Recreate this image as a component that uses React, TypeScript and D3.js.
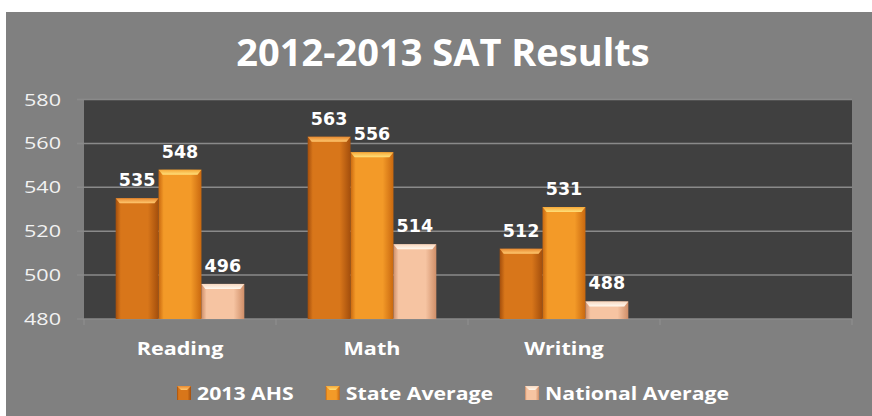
import React, { useEffect, useRef } from "react";
import * as d3 from "d3";

const categories = ["Reading", "Math", "Writing", ""];
const seriesNames = ["2013 AHS", "State Average", "National Average"];
const ahsValues = [535, 563, 512];
const stateValues = [548, 556, 531];
const nationalValues = [496, 514, 488];
const yTicks = [480, 500, 520, 540, 560, 580];
const titleText = "2012-2013 SAT Results";

const W = 872;
const H = 416;
const STRETCH = 1.27;
const LEGEND_STRETCH = 1.25;

const palettes = [
  { edge: "#a34e0c", mid: "#d8761a", top1: "#e88a30", top2: "#ffc870" },
  { edge: "#c9680f", mid: "#f39a28", top1: "#f6a838", top2: "#ffe07a" },
  { edge: "#cf8e68", mid: "#f6c4a2", top1: "#f8d8c0", top2: "#fff8ee" },
];

export default function App() {
  const ref = useRef<SVGSVGElement | null>(null);

  useEffect(() => {
    document.body.style.margin = "0";
    const svg = d3.select(ref.current);
    svg.selectAll("*").remove();

    const left = 84, right = 852, top = 99.5, bottom = 319;

    const defs = svg.append("defs");
    palettes.forEach((p, i) => {
      const g = defs.append("linearGradient").attr("id", `bar${i}`).attr("x1", "0").attr("x2", "1").attr("y1", "0").attr("y2", "0");
      g.append("stop").attr("offset", "0%").attr("stop-color", p.edge);
      g.append("stop").attr("offset", "12%").attr("stop-color", p.mid);
      g.append("stop").attr("offset", "75%").attr("stop-color", p.mid);
      g.append("stop").attr("offset", "100%").attr("stop-color", p.edge);
      const t = defs.append("linearGradient").attr("id", `top${i}`).attr("x1", "0").attr("x2", "0").attr("y1", "0").attr("y2", "1");
      t.append("stop").attr("offset", "0%").attr("stop-color", p.top1);
      t.append("stop").attr("offset", "100%").attr("stop-color", p.top2);
    });

    // background
    svg.append("rect").attr("x", 6).attr("y", 12).attr("width", W - 6).attr("height", H - 12).attr("fill", "#808080");

    // title
    svg.append("text").attr("x", 443).attr("y", 66).attr("text-anchor", "middle")
      .attr("font-family", "'Open Sans', sans-serif").attr("font-weight", 700).attr("font-size", 38)
      .attr("fill", "#ffffff").text(titleText);

    // plot area
    svg.append("rect").attr("x", left).attr("y", top).attr("width", right - left).attr("height", bottom - top).attr("fill", "#404040");

    const y = d3.scaleLinear().domain([480, 580]).range([bottom, top]);
    const x0 = d3.scaleBand<string>().domain(categories).range([left, right]).paddingInner(0.33).paddingOuter(0.165);
    const x1 = d3.scaleBand<string>().domain(seriesNames).range([0, x0.bandwidth()]);
    const xTicks = d3.scaleBand<string>().domain(categories).range([left, right]);

    // gridlines
    svg.append("g").selectAll("line").data(yTicks).join("line")
      .attr("x1", left - 7).attr("x2", right).attr("y1", (d) => y(d)).attr("y2", (d) => y(d))
      .attr("stroke", "#8a8a8a").attr("stroke-width", 1.5);

    // y labels
    svg.append("g").selectAll("text").data(yTicks).join("text")
      .attr("transform", (d) => `translate(61,${y(d) + 6}) scale(${STRETCH},1)`)
      .attr("text-anchor", "end").attr("font-family", "'Open Sans', sans-serif").attr("font-size", 17)
      .attr("fill", "#f2f2f2").text((d) => String(d));

    // x ticks
    const tickXs = categories.map((c) => xTicks(c) as number).concat([right]);
    svg.append("g").selectAll("line").data(tickXs).join("line")
      .attr("x1", (d) => d).attr("x2", (d) => d).attr("y1", bottom).attr("y2", bottom + 6)
      .attr("stroke", "#909090").attr("stroke-width", 1);

    const seriesValues = [ahsValues, stateValues, nationalValues];
    const data = categories.slice(0, 3).flatMap((c, ci) =>
      seriesNames.map((s, si) => ({ c, s, si, v: seriesValues[si][ci] }))
    );

    const bars = svg.append("g");
    const bevel = 5;
    data.forEach((d) => {
      const bx = (x0(d.c) as number) + (x1(d.s) as number);
      const bw = x1.bandwidth();
      const by = y(d.v);
      bars.append("rect").attr("x", bx).attr("y", by).attr("width", bw).attr("height", bottom - by)
        .attr("fill", `url(#bar${d.si})`);
      bars.append("path")
        .attr("d", `M${bx},${by} L${bx + bw},${by} L${bx + bw - 4},${by + bevel} L${bx + 4},${by + bevel} Z`)
        .attr("fill", `url(#top${d.si})`);
      bars.append("text").attr("x", bx + bw / 2).attr("y", by - 12).attr("text-anchor", "middle")
        .attr("font-family", "'DejaVu Sans', sans-serif").attr("font-weight", 700).attr("font-size", 17.5)
        .attr("fill", "#ffffff").text(String(d.v));
    });

    // category labels
    svg.append("g").selectAll("text").data(categories.slice(0, 3)).join("text")
      .attr("transform", (d) => `translate(${(x0(d) as number) + x0.bandwidth() / 2},355) scale(${STRETCH},1)`)
      .attr("text-anchor", "middle")
      .attr("font-family", "'Open Sans', sans-serif").attr("font-weight", 700).attr("font-size", 17)
      .attr("fill", "#ffffff").text((d) => d);

    // legend
    let lx = 177;
    const lg = svg.append("g");
    seriesNames.forEach((s, i) => {
      lg.append("rect").attr("x", lx).attr("y", 386).attr("width", 14).attr("height", 14).attr("fill", `url(#bar${i})`);
      lg.append("path").attr("d", `M${lx},386 L${lx + 14},386 L${lx + 10},390 L${lx + 4},390 Z`).attr("fill", `url(#top${i})`);
      const t = lg.append("text").attr("transform", `translate(${lx + 20},400) scale(${LEGEND_STRETCH},1)`)
        .attr("font-family", "'Open Sans', sans-serif").attr("font-weight", 700).attr("font-size", 17)
        .attr("fill", "#ffffff").text(s);
      const w = (t.node() as SVGTextElement).getComputedTextLength() * LEGEND_STRETCH;
      lx += 20 + w + 32;
    });
  }, []);

  return <svg ref={ref} width={W} height={H} style={{ display: "block" }} />;
}
